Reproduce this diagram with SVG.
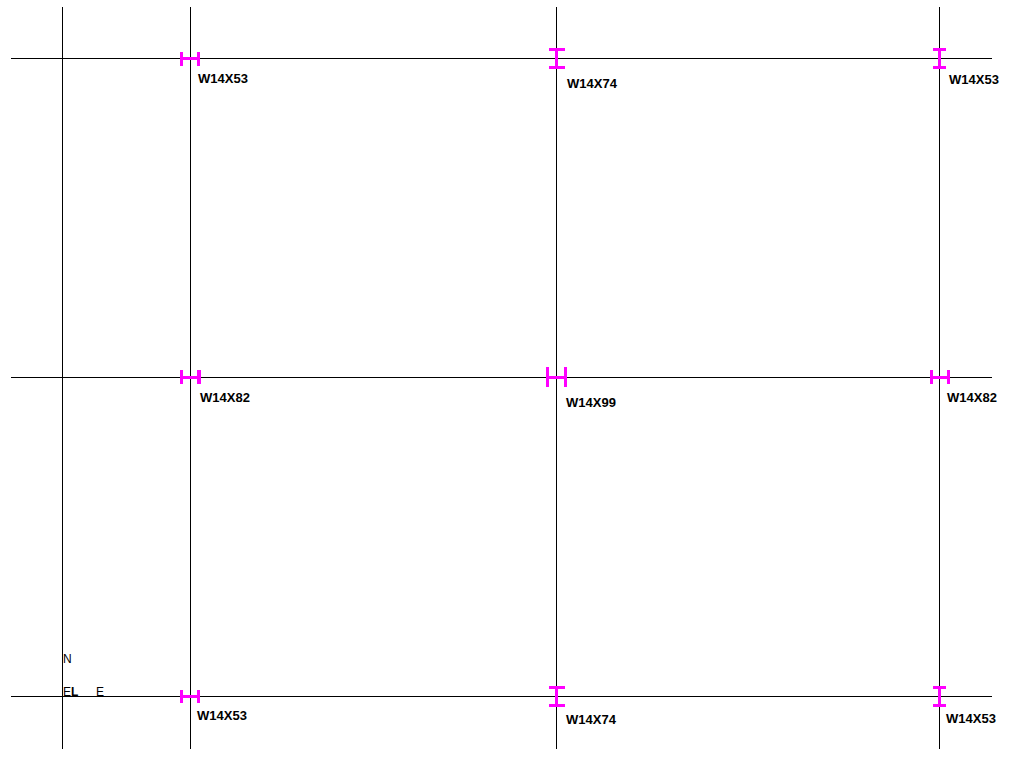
<svg xmlns="http://www.w3.org/2000/svg" width="1035" height="767" viewBox="0 0 1035 767">
<style>
.g{stroke:#000;stroke-width:1;fill:none;shape-rendering:crispEdges}
.m{fill:#ff00ff;stroke:none}
.t{font-family:"Liberation Sans",Arial,sans-serif;font-size:13px;font-weight:bold;fill:#000}
.s{font-family:"Liberation Sans",Arial,sans-serif;font-size:12px;fill:#000}
</style>
<rect width="1035" height="767" fill="#fff"/>
<g id="connectors">
<path class="g" d="M62.500 7V749M190.500 7V749M556.500 7V749M939.500 7V749M11 58.500H992M11 377.500H992M11 696.500H992"/>
</g>
<g id="c1"><path class="m" d="M180 52h3v5h14v-5h3v14h-3v-6h-14v6h-3z"/><text class="t" x="198" y="83">W14X53</text></g>
<g id="c2"><path class="m" d="M549 48h16v3h-7v15h7v3h-16v-3h6v-15h-6z"/><text class="t" x="567" y="88">W14X74</text></g>
<g id="c3"><path class="m" d="M933 48h13v3h-5v15h5v3h-13v-3h5v-15h-5z"/><text class="t" x="949" y="84">W14X53</text></g>
<g id="c4"><path class="m" d="M180 370h3v6h14v-6h4v14h-4v-5h-14v5h-3z"/><text class="t" x="200" y="402">W14X82</text></g>
<g id="c5"><path class="m" d="M546 367h3v9h15v-9h3v20h-3v-8h-15v8h-3z"/><text class="t" x="566" y="407">W14X99</text></g>
<g id="c6"><path class="m" d="M930 370h3v6h14v-6h3v14h-3v-5h-14v5h-3z"/><text class="t" x="947" y="402">W14X82</text></g>
<g id="c7"><path class="m" d="M180 690h3v5h14v-5h3v13h-3v-5h-14v5h-3z"/><text class="t" x="197" y="720">W14X53</text></g>
<g id="c8"><path class="m" d="M549 686h16v3h-7v15h7v3h-16v-3h6v-15h-6z"/><text class="t" x="566" y="724">W14X74</text></g>
<g id="c9"><path class="m" d="M933 686h13v3h-5v15h5v3h-13v-3h5v-15h-5z"/><text class="t" x="946" y="723">W14X53</text></g>
<g id="labels">
<text class="s" x="63" y="663">N</text>
<text class="s" x="63" y="696">E</text>
<text class="s" x="71" y="696" font-weight="bold">L</text>
<text class="s" x="96" y="696">E</text>
</g>
</svg>
